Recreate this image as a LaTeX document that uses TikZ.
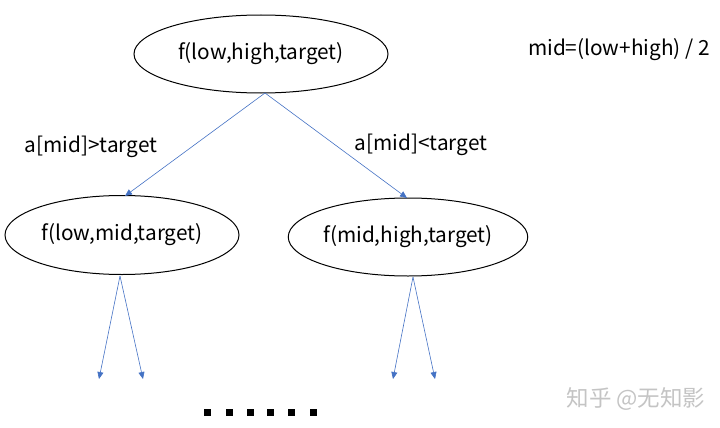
\documentclass[tikz,border=0pt]{standalone}
\usepackage{fontspec}
\setmainfont{Noto Sans CJK SC}
\usetikzlibrary{shapes.geometric,arrows.meta}
\definecolor{arrowblue}{HTML}{4472C4}
\definecolor{wmgrey}{HTML}{C4C4C4}
\tikzset{
  callnode/.style={draw=black, line width=1pt, ellipse, inner sep=0pt, font=\fontsize{20.8}{23}\selectfont},
  branch/.style={draw=arrowblue, line width=0.6pt, -{Triangle[width=6pt,length=7pt]}, fill=none},
  lbl/.style={font=\fontsize{20.8}{23}\selectfont, inner sep=0pt},
  dotsq/.style={fill=black, minimum size=7pt, inner sep=0pt},
}
\begin{document}
\begin{tikzpicture}[x=1pt,y=-1pt]
\useasboundingbox (0,0) rectangle (720,428);
\node[callnode, minimum width=254pt, minimum height=78pt] (top) at (261,54) {f(low,high,target)};
\node[callnode, minimum width=234pt, minimum height=79pt] (left) at (122,235) {f(low,mid,target)};
\node[callnode, minimum width=236pt, minimum height=78pt] (right) at (408,237) {f(mid,high,target)};
\node[lbl] (formula) at (619,50) {mid=(low+high) / 2};
\node[lbl] (lgt) at (91,147) {a[mid]>target};
\node[lbl] (llt) at (421,145) {a[mid]<target};
\coordinate (ts) at (265,93);
\coordinate (lt) at (125,196);
\coordinate (rt) at (407,198);
\draw[branch] (ts) -- (lt);
\draw[branch] (ts) -- (rt);
\coordinate (lb) at (120,276);
\coordinate (rb) at (413,277);
\coordinate (l1) at (99,379);
\coordinate (l2) at (143,379);
\coordinate (r1) at (393,379);
\coordinate (r2) at (435,379);
\draw[branch] (lb) -- (l1);
\draw[branch] (lb) -- (l2);
\draw[branch] (rb) -- (r1);
\draw[branch] (rb) -- (r2);
\foreach \i/\x in {1/207,2/229,3/250,4/270,5/291,6/313}
  \node[dotsq] (d\i) at (\x,412) {};
\node[font=\fontsize{22.5}{25}\selectfont, text=wmgrey, inner sep=0pt] (wm) at (636,399) {知乎 @无知影};
\end{tikzpicture}
\end{document}
